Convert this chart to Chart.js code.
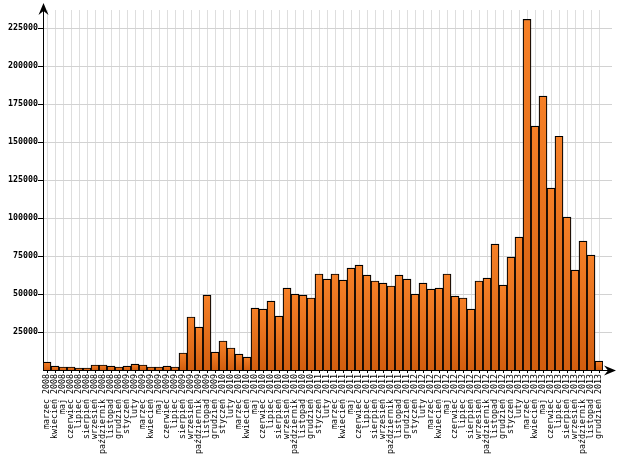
<!DOCTYPE html>
<html>
<head>
<meta charset="utf-8">
<script src="https://cdn.jsdelivr.net/npm/chart.js@4/dist/chart.umd.min.js"></script>
<style>
html,body{margin:0;padding:0;background:#fff;}
#wrap{width:620px;height:465px;}
</style>
</head>
<body>
<div id="wrap"><canvas id="c" width="620" height="465"></canvas></div>
<script>
const categories = [
  "marzec 2008","kwiecień 2008","maj 2008","czerwiec 2008","lipiec 2008","sierpień 2008","wrzesień 2008","październik 2008","listopad 2008","grudzień 2008",
  "styczeń 2009","luty 2009","marzec 2009","kwiecień 2009","maj 2009","czerwiec 2009","lipiec 2009","sierpień 2009","wrzesień 2009","październik 2009","listopad 2009","grudzień 2009",
  "styczeń 2010","luty 2010","marzec 2010","kwiecień 2010","maj 2010","czerwiec 2010","lipiec 2010","sierpień 2010","wrzesień 2010","październik 2010","listopad 2010","grudzień 2010",
  "styczeń 2011","luty 2011","marzec 2011","kwiecień 2011","maj 2011","czerwiec 2011","lipiec 2011","sierpień 2011","wrzesień 2011","październik 2011","listopad 2011","grudzień 2011",
  "styczeń 2012","luty 2012","marzec 2012","kwiecień 2012","maj 2012","czerwiec 2012","lipiec 2012","sierpień 2012","wrzesień 2012","październik 2012","listopad 2012","grudzień 2012",
  "styczeń 2013","luty 2013","marzec 2013","kwiecień 2013","maj 2013","czerwiec 2013","lipiec 2013","sierpień 2013","wrzesień 2013","październik 2013","listopad 2013","grudzień 2013"
];
const values = [
  5200, 2600, 2000, 2000, 1300, 1300, 3300, 3300, 2600, 2000,
  2600, 3900, 3300, 2000, 2000, 2600, 2000, 11200, 34900, 28300, 49300, 11800,
  19100, 14500, 10500, 8550, 40800, 40100, 45400, 35500, 53900, 50000, 49300, 47400,
  63200, 59900, 63200, 59200, 67100, 69100, 62500, 58600, 57200, 55300, 62500, 59900,
  50000, 57200, 53300, 53900, 63200, 48700, 47400, 40100, 58600, 60500, 82900, 55900,
  74300, 87500, 230900, 160500, 180300, 119700, 153900, 100700, 65800, 84900, 75700, 5900
];
const yTicks = [25000, 50000, 75000, 100000, 125000, 150000, 175000, 200000, 225000];
const yMax = 237000;

const arrowPlugin = {
  id: 'arrows',
  afterDraw(chart) {
    const ctx = chart.ctx;
    const a = chart.chartArea;
    const ys = chart.scales.y;
    ctx.save();
    ctx.strokeStyle = '#d2d2d2';
    ctx.lineWidth = 1;
    yTicks.forEach(v => {
      const py = Math.round(ys.getPixelForValue(v)) + 0.5;
      ctx.beginPath(); ctx.moveTo(a.right, py); ctx.lineTo(a.right + 9, py); ctx.stroke();
    });
    ctx.strokeStyle = '#000';
    ctx.fillStyle = '#000';
    const x0 = Math.round(a.left) + 0.5;
    const yb = Math.round(a.bottom) + 0.5;
    ctx.beginPath(); ctx.moveTo(x0, a.top); ctx.lineTo(x0, 6); ctx.stroke();
    ctx.beginPath();
    ctx.moveTo(x0, 3);
    ctx.lineTo(x0 - 5, 15);
    ctx.lineTo(x0, 11);
    ctx.lineTo(x0 + 5, 15);
    ctx.closePath(); ctx.fill();
    ctx.beginPath(); ctx.moveTo(a.right, yb); ctx.lineTo(612, yb); ctx.stroke();
    ctx.beginPath();
    ctx.moveTo(616, yb);
    ctx.lineTo(604, yb - 5);
    ctx.lineTo(608, yb);
    ctx.lineTo(604, yb + 5);
    ctx.closePath(); ctx.fill();
    ctx.restore();
  }
};

function barFill(c) {
  const chart = c.chart;
  if (!chart.chartArea || c.type !== 'data') return '#E8701C';
  const ys = chart.scales.y;
  const top = ys.getPixelForValue(c.raw);
  const bot = ys.getPixelForValue(0);
  if (!isFinite(top) || bot - top < 1) return '#E8701C';
  const g = chart.ctx.createLinearGradient(0, top, 0, bot);
  g.addColorStop(0, '#F68027');
  g.addColorStop(1, '#D25E0F');
  return g;
}

new Chart(document.getElementById('c'), {
  type: 'bar',
  data: {
    labels: categories,
    datasets: [{
      data: values,
      backgroundColor: barFill,
      borderColor: '#000',
      borderWidth: 1.2,
      borderSkipped: 'bottom',
      barPercentage: 1,
      categoryPercentage: 1
    }]
  },
  options: {
    responsive: false,
    animation: false,
    layout: { padding: { top: 10, right: 17, left: 0, bottom: 0 } },
    plugins: { legend: { display: false }, tooltip: { enabled: false } },
    scales: {
      x: {
        offset: true,
        grid: { offset: false, color: '#dedede', lineWidth: 1, tickColor: '#000', tickLength: 3, drawTicks: true },
        border: { color: '#000', width: 1 },
        ticks: {
          autoSkip: false, maxRotation: 90, minRotation: 90, padding: 1,
          color: '#000', font: { family: '"DejaVu Sans Mono"', size: 8.3 }
        },
        afterFit(s) { s.height = 95; }
      },
      y: {
        min: 0, max: yMax,
        afterBuildTicks(s) { s.ticks = yTicks.map(v => ({ value: v })); },
        grid: { color: '#d2d2d2', tickColor: '#000', lineWidth: 1, tickLength: 5 },
        border: { color: '#000', width: 1 },
        ticks: {
          padding: 0, color: '#000', autoSkip: false,
          callback: (v) => String(v),
          font: { family: '"DejaVu Sans Mono"', size: 8.3, weight: 'bold' }
        },
        afterFit(s) { s.width = 43; }
      }
    }
  },
  plugins: [arrowPlugin]
});
</script>
</body>
</html>
